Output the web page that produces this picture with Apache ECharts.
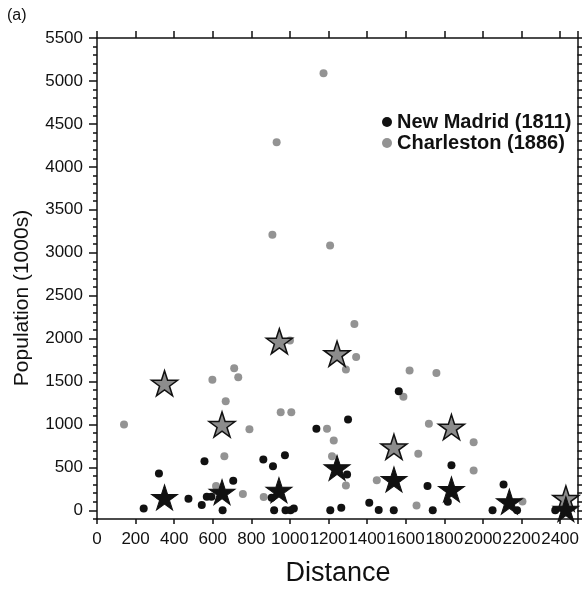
<!DOCTYPE html>
<html>
<head>
<meta charset="utf-8">
<script src="https://cdn.jsdelivr.net/npm/echarts@6/dist/echarts.min.js"></script>
<style>html,body{margin:0;padding:0;background:#fff}#c{width:582px;height:590px}</style>
</head>
<body>
<div id="c"></div>
<script>
// New Madrid (1811) points: [distance, population (1000s)]
const newMadrid = [[242,23],[321,430],[474,136],[543,64],[557,573],[569,160],[593,160],[651,3],[706,345],[862,593],[905,147],[912,515],[918,3],[974,643],[977,3],[1003,3],[1020,23],[1137,950],[1209,3],[1266,30],[1296,419],[1301,1058],[1411,88],[1460,5],[1538,3],[1564,1388],[1713,283],[1740,3],[1818,100],[1837,527],[2050,3],[2107,302],[2177,3],[2375,3]];
// Charleston (1886) points
const charleston = [[140,1000],[598,1520],[617,283],[660,631],[667,1271],[711,1655],[732,1550],[756,190],[790,945],[864,157],[909,3209],[931,4287],[952,1143],[1000,1977],[1007,1143],[1174,5090],[1192,950],[1208,3085],[1218,631],[1227,814],[1290,1640],[1290,290],[1334,2171],[1343,1787],[1450,350],[1588,1322],[1620,1628],[1656,58],[1665,659],[1720,1008],[1759,1601],[1952,794],[1952,465],[2205,105]];
// Binned averages (stars)
const charlestonStars = [[350,1480],[648,1000],[945,1970],[1244,1825],[1539,740],[1837,970],[2430,140]];
const newMadridStars = [[350,151],[648,213],[943,236],[1244,496],[1539,360],[1837,244],[2137,101],[2430,15]];
const yMajorTicks = [0,500,1000,1500,2000,2500,3000,3500,4000,4500,5000,5500];

const STAR = 'path://M0,-100L22.45,-30.9L95.11,-30.9L36.33,11.8L58.78,80.9L0,38.2L-58.78,80.9L-36.33,11.8L-95.11,-30.9L-22.45,-30.9Z';
const FONT = '"Liberation Sans", Arial, Helvetica, sans-serif';
const INK = '#111111';
const GRAY = '#939393';
const lineStyle = {color: INK, width: 1.5};

const chart = echarts.init(document.getElementById('c'), null, {renderer: 'canvas'});
chart.setOption({
  animation: false,
  backgroundColor: '#fff',
  grid: {left: 97, right: 4, top: 38, bottom: 71},
  legend: {
    data: ['New Madrid (1811)', 'Charleston (1886)'],
    orient: 'vertical', left: 377, top: 107,
    icon: 'circle', itemWidth: 10, itemHeight: 10, itemGap: 1,
    textStyle: {fontFamily: FONT, fontSize: 20, fontWeight: 'bold', color: INK, padding: [0,0,0,0]}
  },
  xAxis: [
    {type: 'value', position: 'bottom', min: 0, max: 2490, interval: 200,
     axisLine: {show: true, onZero: false, lineStyle},
     axisTick: {show: true, inside: false, length: 5, lineStyle},
     axisLabel: {fontFamily: FONT, fontSize: 17, color: INK, margin: 12,
       formatter: v => (v % 200 === 0 ? String(v) : '')},
     splitLine: {show: false}},
    {type: 'value', position: 'top', min: 0, max: 2490, interval: 200,
     axisLine: {show: true, onZero: false, lineStyle},
     axisTick: {show: true, inside: false, length: 7, lineStyle},
     axisLabel: {show: false}, splitLine: {show: false}}
  ],
  yAxis: [
    {type: 'value', position: 'left', min: -100, max: 5500, interval: 100,
     axisLine: {show: true, onZero: false, lineStyle},
     axisTick: {show: true, inside: false, length: 4, lineStyle},
     axisLabel: {fontFamily: FONT, fontSize: 17, color: INK, margin: 14,
       formatter: v => (v >= 0 && v % 500 === 0 ? String(v) : '')},
     splitLine: {show: false}},
    {type: 'value', position: 'right', min: -100, max: 5500, interval: 100,
     axisLine: {show: true, onZero: false, lineStyle},
     axisTick: {show: true, inside: false, length: 6, lineStyle},
     axisLabel: {show: false}, splitLine: {show: false}},
    {type: 'value', position: 'left', min: -100, max: 5500,
     axisLine: {show: false},
     axisTick: {show: true, inside: false, length: 8, lineStyle, customValues: yMajorTicks},
     axisLabel: {show: false}, splitLine: {show: false}}
  ],
  series: [
    {name: 'Charleston (1886)', type: 'scatter', data: charleston, symbol: 'circle', symbolSize: 8,
     itemStyle: {color: GRAY, opacity: 1}, z: 2},
    {name: 'New Madrid (1811)', type: 'scatter', data: newMadrid, symbol: 'circle', symbolSize: 8,
     itemStyle: {color: INK, opacity: 1}, z: 3},
    {name: 'Charleston mean', type: 'scatter', data: charlestonStars, symbol: STAR, symbolSize: [26, 25],
     itemStyle: {color: '#8c8c8c', borderColor: INK, borderWidth: 1.5, opacity: 1}, z: 4},
    {name: 'New Madrid mean', type: 'scatter', data: newMadridStars, symbol: STAR, symbolSize: [26, 25],
     itemStyle: {color: INK, borderColor: INK, borderWidth: 1, opacity: 1}, z: 5}
  ],
  graphic: [
    {type: 'text', left: 7, top: 8, style: {text: '(a)', font: '16px ' + FONT, fill: INK}},
    {type: 'text', x: 338, y: 574, style: {text: 'Distance', font: '27px ' + FONT, fill: INK, align: 'center', verticalAlign: 'middle'}},
    {type: 'text', x: 22, y: 298, rotation: Math.PI / 2, style: {text: 'Population (1000s)', font: '21px ' + FONT, fill: INK, align: 'center', verticalAlign: 'middle'}}
  ]
});
</script>
</body>
</html>
